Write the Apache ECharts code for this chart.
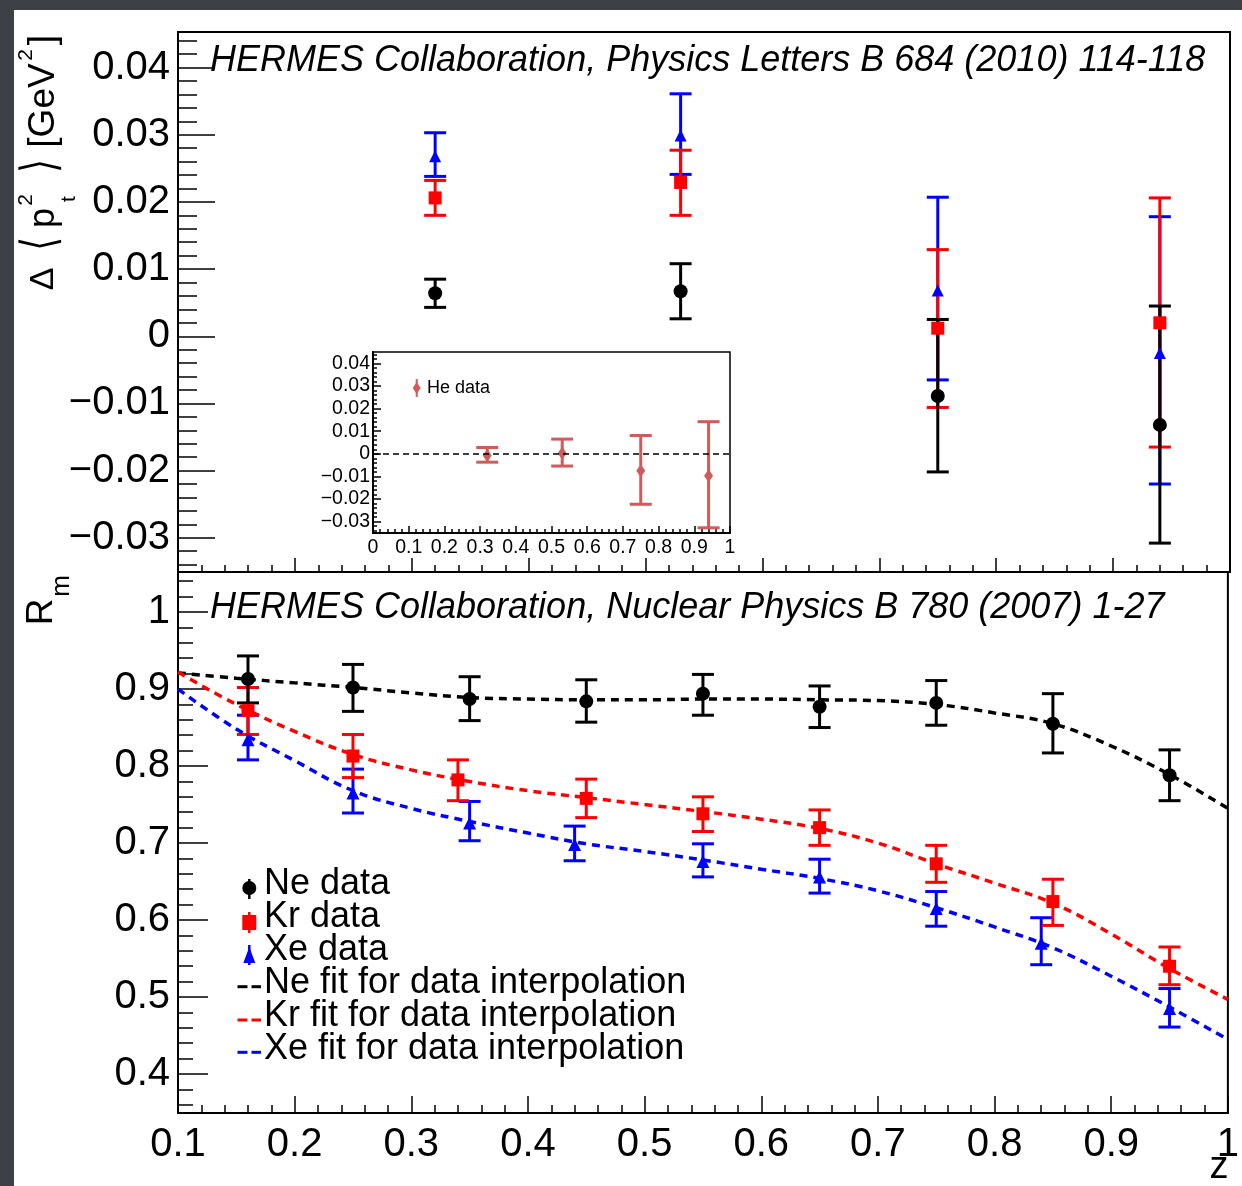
<!DOCTYPE html>
<html><head><meta charset="utf-8">
<script src="https://cdn.jsdelivr.net/npm/echarts@6/dist/echarts.min.js"></script>
<style>
html,body{margin:0;padding:0;background:#3d4147;}
#paper{position:absolute;left:14px;top:10px;width:1228px;height:1176px;background:#fff;}
#c{position:absolute;left:0;top:0;width:1242px;height:1186px;}
</style>
</head><body><div id="paper"></div><div id="c"></div><script>
// ---------- top panel: Delta <pt^2> ----------
const zTop = [0.32, 0.53, 0.75, 0.94];
const neTop   = [0.0064, 0.0067, -0.0089, -0.0132];
const neTopHi = [0.0085, 0.0108, 0.0025, 0.0045];
const neTopLo = [0.0043, 0.0026, -0.0202, -0.0308];
const krTop   = [0.0206, 0.0229, 0.0012, 0.0020];
const krTopHi = [0.0232, 0.0277, 0.0129, 0.0206];
const krTopLo = [0.0180, 0.0180, -0.0106, -0.0165];
const xeTop   = [0.0268, 0.0299, 0.0068, -0.0025];
const xeTopHi = [0.0303, 0.0361, 0.0207, 0.0178];
const xeTopLo = [0.0238, 0.0241, -0.0065, -0.0220];
// ---------- inset: He ----------
const zHe   = [0.32, 0.53, 0.75, 0.94];
const he    = [-0.0007, 0.0003, -0.0075, -0.0097];
const heHi  = [0.0028, 0.0065, 0.0081, 0.0142];
const heLo  = [-0.0037, -0.0054, -0.0223, -0.0327];
// ---------- bottom panel: R_m ----------
const zNe  = [0.16, 0.25, 0.35, 0.45, 0.55, 0.65, 0.75, 0.85, 0.95];
const ne   = [0.913, 0.902, 0.887, 0.884, 0.894, 0.877, 0.882, 0.855, 0.788];
const neHi = [0.943, 0.932, 0.916, 0.912, 0.919, 0.904, 0.911, 0.894, 0.821];
const neLo = [0.882, 0.871, 0.859, 0.857, 0.866, 0.850, 0.853, 0.817, 0.755];
const zKr  = [0.16, 0.25, 0.34, 0.45, 0.55, 0.65, 0.75, 0.85, 0.95];
const kr   = [0.872, 0.813, 0.782, 0.758, 0.738, 0.720, 0.673, 0.624, 0.540];
const krHi = [0.902, 0.841, 0.808, 0.783, 0.760, 0.743, 0.697, 0.653, 0.565];
const krLo = [0.841, 0.785, 0.755, 0.733, 0.715, 0.697, 0.649, 0.593, 0.516];
const zXe  = [0.16, 0.25, 0.35, 0.44, 0.55, 0.65, 0.75, 0.84, 0.95];
const xe   = [0.834, 0.765, 0.726, 0.698, 0.676, 0.656, 0.615, 0.570, 0.485];
const xeHi = [0.866, 0.796, 0.754, 0.722, 0.699, 0.679, 0.637, 0.603, 0.511];
const xeLo = [0.808, 0.739, 0.703, 0.677, 0.656, 0.635, 0.592, 0.542, 0.461];
// fit curves
const zFit  = [0.1, 0.15, 0.2, 0.25, 0.3, 0.35, 0.4, 0.45, 0.5, 0.55, 0.6, 0.65, 0.7, 0.75, 0.8, 0.85, 0.9, 0.95, 1.0];
const neFit = [0.921, 0.914, 0.908, 0.902, 0.895, 0.889, 0.887, 0.886, 0.886, 0.887, 0.887, 0.886, 0.885, 0.880, 0.869, 0.855, 0.826, 0.789, 0.745];
const krFit = [0.922, 0.880, 0.845, 0.815, 0.795, 0.780, 0.768, 0.759, 0.750, 0.741, 0.731, 0.719, 0.700, 0.673, 0.648, 0.622, 0.582, 0.537, 0.497];
const xeFit = [0.900, 0.848, 0.807, 0.768, 0.745, 0.728, 0.713, 0.699, 0.689, 0.678, 0.666, 0.654, 0.638, 0.616, 0.591, 0.564, 0.527, 0.487, 0.445];
// ---------- ticks ----------
const topMajor = [-0.03, -0.02, -0.01, 0, 0.01, 0.02, 0.03, 0.04];
const topMinor = []; for (let i = -17; i <= 22; i++) topMinor.push(+(i * 0.002).toFixed(3));
const botMajor = [0.4, 0.5, 0.6, 0.7, 0.8, 0.9, 1];
const botMinor = []; for (let i = 18; i <= 52; i++) botMinor.push(+(i * 0.02).toFixed(2));

const F = '"Liberation Sans", Arial, Helvetica, "DejaVu Sans", sans-serif';
const FB = '"DejaVu Sans", "Liberation Sans", sans-serif';
const BLACK = '#000', RED = '#ff0000', BLUE = '#0000ff', HE = '#cf5b5b';

function pts(x, y, lo, hi) { return x.map((v, i) => [v, y[i], lo[i], hi[i]]); }
function errBar(color, capW, lw) {
  return function (params, api) {
    const x = api.value(0), lo = api.value(2), hi = api.value(3);
    const a = api.coord([x, hi]), b = api.coord([x, lo]);
    const st = { stroke: color, lineWidth: lw };
    return { type: 'group', children: [
      { type: 'line', shape: { x1: a[0], y1: a[1], x2: b[0], y2: b[1] }, style: st },
      { type: 'line', shape: { x1: a[0] - capW / 2, y1: a[1], x2: a[0] + capW / 2, y2: a[1] }, style: st },
      { type: 'line', shape: { x1: b[0] - capW / 2, y1: b[1], x2: b[0] + capW / 2, y2: b[1] }, style: st }
    ]};
  };
}
function errSeries(xi, yi, data, color, cap, lw) {
  return { type: 'custom', xAxisIndex: xi, yAxisIndex: yi, data: data, encode: { x: 0, y: [1, 2, 3] },
    renderItem: errBar(color, cap, lw), silent: true };
}
function markSeries(xi, yi, data, color, symbol, size) {
  return { type: 'scatter', xAxisIndex: xi, yAxisIndex: yi, data: data.map(d => [d[0], d[1]]),
    symbol: symbol, symbolSize: size, itemStyle: { color: color, opacity: 1 }, silent: true };
}
const fmtTop = v => v === 0 ? '0' : (v < 0 ? '\u2212' : '') + Math.abs(v).toFixed(2);
const fmtBot = v => String(+v.toFixed(2));
const tickLS = { color: BLACK, width: 1.5 };
const axLine = { show: true, onZero: false, lineStyle: { color: BLACK, width: 2 } };

function xAx(grid, min, len, mlen, label) {
  return { gridIndex: grid, type: 'value', min: min, max: 1, interval: 0.1,
    axisLine: axLine, splitLine: { show: false },
    axisTick: { inside: true, length: len, lineStyle: tickLS },
    minorTick: { show: true, splitNumber: 5, length: mlen, lineStyle: tickLS },
    axisLabel: label };
}
function yMajor(grid, min, max, ticks, len, label) {
  return { gridIndex: grid, type: 'value', min: min, max: max, position: 'left',
    axisLine: axLine, splitLine: { show: false },
    axisTick: { inside: true, length: len, customValues: ticks, lineStyle: tickLS },
    axisLabel: Object.assign({ customValues: ticks }, label) };
}
function yMinor(grid, min, max, ticks, len) {
  return { gridIndex: grid, type: 'value', min: min, max: max, position: 'left',
    axisLine: { show: false }, splitLine: { show: false },
    axisTick: { inside: true, length: len, customValues: ticks, lineStyle: tickLS },
    axisLabel: { show: false } };
}
function txt(x, y, s, font, extra) {
  return Object.assign({ type: 'text', x: x, y: y, style: Object.assign({ text: s, font: font, fill: BLACK, textVerticalAlign: 'middle' }, extra || {}) });
}
const C = { textAlign: 'center' };

const chart = echarts.init(document.getElementById('c'), null, { renderer: 'canvas' });
const option = {
  backgroundColor: 'transparent',
  animation: false,
  grid: [
    { left: 178, top: 32, width: 1052, height: 540, show: true, borderColor: BLACK, borderWidth: 2, backgroundColor: 'transparent' },
    { left: 178, top: 572, width: 1052, height: 541, show: true, borderColor: BLACK, borderWidth: 2, backgroundColor: 'transparent' },
    { left: 373, top: 352, width: 357, height: 181, show: true, borderColor: BLACK, borderWidth: 1.5, backgroundColor: '#fff' }
  ],
  xAxis: [
    xAx(0, 0.1, 14, 7, { show: false }),
    xAx(1, 0.1, 17, 8, { fontSize: 40, color: BLACK, fontFamily: F, margin: 12, formatter: v => String(+v.toFixed(1)) }),
    xAx(2, 0, 7, 4, { fontSize: 19.5, color: BLACK, fontFamily: F, margin: 5, formatter: v => String(+v.toFixed(1)) })
  ],
  yAxis: [
    yMajor(0, -0.0351, 0.0453, topMajor, 37, { fontSize: 40, color: BLACK, fontFamily: F, margin: 8, formatter: fmtTop }),
    yMinor(0, -0.0351, 0.0453, topMinor, 19),
    yMajor(1, 0.3494, 1.052, botMajor, 30, { fontSize: 40, color: BLACK, fontFamily: F, margin: 8, formatter: fmtBot }),
    yMinor(1, 0.3494, 1.052, botMinor, 15),
    yMajor(2, -0.035, 0.045, topMajor, 8, { fontSize: 19.5, color: BLACK, fontFamily: F, margin: 3, formatter: fmtTop }),
    yMinor(2, -0.035, 0.045, topMinor, 4)
  ],
  series: [
    // top panel
    errSeries(0, 0, pts(zTop, xeTop, xeTopLo, xeTopHi), BLUE, 22, 3),
    markSeries(0, 0, pts(zTop, xeTop, xeTopLo, xeTopHi), BLUE, 'triangle', [12, 12]),
    errSeries(0, 0, pts(zTop, krTop, krTopLo, krTopHi), RED, 22, 3),
    markSeries(0, 0, pts(zTop, krTop, krTopLo, krTopHi), RED, 'rect', [13, 13]),
    errSeries(0, 0, pts(zTop, neTop, neTopLo, neTopHi), BLACK, 22, 3),
    markSeries(0, 0, pts(zTop, neTop, neTopLo, neTopHi), BLACK, 'circle', 14),
    // bottom panel fits
    { type: 'line', xAxisIndex: 1, yAxisIndex: 2, data: zFit.map((z, i) => [z, neFit[i]]), smooth: 0.4, showSymbol: false, silent: true,
      lineStyle: { color: BLACK, width: 3.5, type: [8, 6] } },
    { type: 'line', xAxisIndex: 1, yAxisIndex: 2, data: zFit.map((z, i) => [z, krFit[i]]), smooth: 0.4, showSymbol: false, silent: true,
      lineStyle: { color: RED, width: 3.5, type: [8, 6] } },
    { type: 'line', xAxisIndex: 1, yAxisIndex: 2, data: zFit.map((z, i) => [z, xeFit[i]]), smooth: 0.4, showSymbol: false, silent: true,
      lineStyle: { color: BLUE, width: 3.5, type: [8, 6] } },
    // bottom panel data
    errSeries(1, 2, pts(zXe, xe, xeLo, xeHi), BLUE, 22, 3),
    markSeries(1, 2, pts(zXe, xe, xeLo, xeHi), BLUE, 'triangle', [13, 13]),
    errSeries(1, 2, pts(zKr, kr, krLo, krHi), RED, 22, 3),
    markSeries(1, 2, pts(zKr, kr, krLo, krHi), RED, 'rect', [13, 13]),
    errSeries(1, 2, pts(zNe, ne, neLo, neHi), BLACK, 22, 3),
    markSeries(1, 2, pts(zNe, ne, neLo, neHi), BLACK, 'circle', 14),
    // inset
    errSeries(2, 4, pts(zHe, he, heLo, heHi), HE, 22, 3),
    Object.assign(markSeries(2, 4, pts(zHe, he, heLo, heHi), HE, 'diamond', [9, 13]), {
      markLine: { silent: true, symbol: 'none', label: { show: false },
        lineStyle: { color: BLACK, width: 1.5, type: [6, 4] }, data: [{ yAxis: 0 }] }
    })
  ],
  graphic: [
    // titles
    txt(210, 61, 'HERMES Collaboration, Physics Letters B 684 (2010) 114-118', 'italic 36px ' + F),
    txt(210, 608, 'HERMES Collaboration, Nuclear Physics B 780 (2007) 1-27', 'italic 36px ' + F),
    // y title top panel (rotated, reads bottom to top)
    { type: 'group', x: 0, y: 296, rotation: Math.PI / 2, children: [
      txt(17, 44, '\u0394', '34px ' + F, C),
      Object.assign(txt(52, 43, '\u27E8', '32px ' + FB, C), { scaleX: 1.1, scaleY: 1.5 }),
      txt(78, 44, 'p', '36px ' + F, C),
      txt(96, 26, '2', '21px ' + F, C),
      txt(97, 69, 't', '21px ' + F, C),
      Object.assign(txt(130, 43, '\u27E9', '32px ' + FB, C), { scaleX: 1.1, scaleY: 1.5 }),
      txt(190.5, 44, '[GeV', '37px ' + F, C),
      txt(241, 26, '2', '21px ' + F, C),
      txt(256, 44, ']', '37px ' + F, C)
    ]},
    // y title bottom panel
    { type: 'group', x: 0, y: 626, rotation: Math.PI / 2, children: [
      txt(14, 42, 'R', '37px ' + F, C),
      txt(40, 62, 'm', '26px ' + F, C)
    ]},
    // x title
    txt(1219, 1168, 'z', '38px ' + F, C),
    // legend bottom panel
    { type: 'line', shape: { x1: 249.3, y1: 879, x2: 249.3, y2: 899 }, style: { stroke: BLACK, lineWidth: 2.5 } },
    { type: 'circle', shape: { cx: 249.3, cy: 888, r: 7 }, style: { fill: BLACK } },
    { type: 'line', shape: { x1: 249.3, y1: 912, x2: 249.3, y2: 933 }, style: { stroke: RED, lineWidth: 2.5 } },
    { type: 'rect', shape: { x: 242.3, y: 915, width: 14, height: 15 }, style: { fill: RED } },
    { type: 'line', shape: { x1: 249.3, y1: 945, x2: 249.3, y2: 965 }, style: { stroke: BLUE, lineWidth: 2.5 } },
    { type: 'polygon', shape: { points: [[249.3, 947], [243.3, 963], [255.3, 963]] }, style: { fill: BLUE } },
    { type: 'line', shape: { x1: 237.5, y1: 986.7, x2: 247.5, y2: 986.7 }, style: { stroke: BLACK, lineWidth: 3 } },
    { type: 'line', shape: { x1: 251.5, y1: 986.7, x2: 261, y2: 986.7 }, style: { stroke: BLACK, lineWidth: 3 } },
    { type: 'line', shape: { x1: 237.5, y1: 1020, x2: 247.5, y2: 1020 }, style: { stroke: RED, lineWidth: 3 } },
    { type: 'line', shape: { x1: 251.5, y1: 1020, x2: 261, y2: 1020 }, style: { stroke: RED, lineWidth: 3 } },
    { type: 'line', shape: { x1: 237.5, y1: 1052.3, x2: 247.5, y2: 1052.3 }, style: { stroke: BLUE, lineWidth: 3 } },
    { type: 'line', shape: { x1: 251.5, y1: 1052.3, x2: 261, y2: 1052.3 }, style: { stroke: BLUE, lineWidth: 3 } },
    txt(264, 884, 'Ne data', '36px ' + F),
    txt(264, 917, 'Kr data', '36px ' + F),
    txt(264, 950, 'Xe data', '36px ' + F),
    txt(264, 983, 'Ne fit for data interpolation', '36px ' + F),
    txt(264, 1016, 'Kr fit for data interpolation', '36px ' + F),
    txt(264, 1049, 'Xe fit for data interpolation', '36px ' + F),
    // inset legend
    { type: 'line', shape: { x1: 416.7, y1: 379, x2: 416.7, y2: 397 }, style: { stroke: HE, lineWidth: 2 }, z: 100 },
    { type: 'polygon', shape: { points: [[416.7, 382], [420.7, 388], [416.7, 394], [412.7, 388]] }, style: { fill: HE }, z: 100 },
    Object.assign(txt(427, 388, 'He data', '18px ' + F), { z: 100 })
  ]
};
chart.setOption(option);
</script></body></html>
